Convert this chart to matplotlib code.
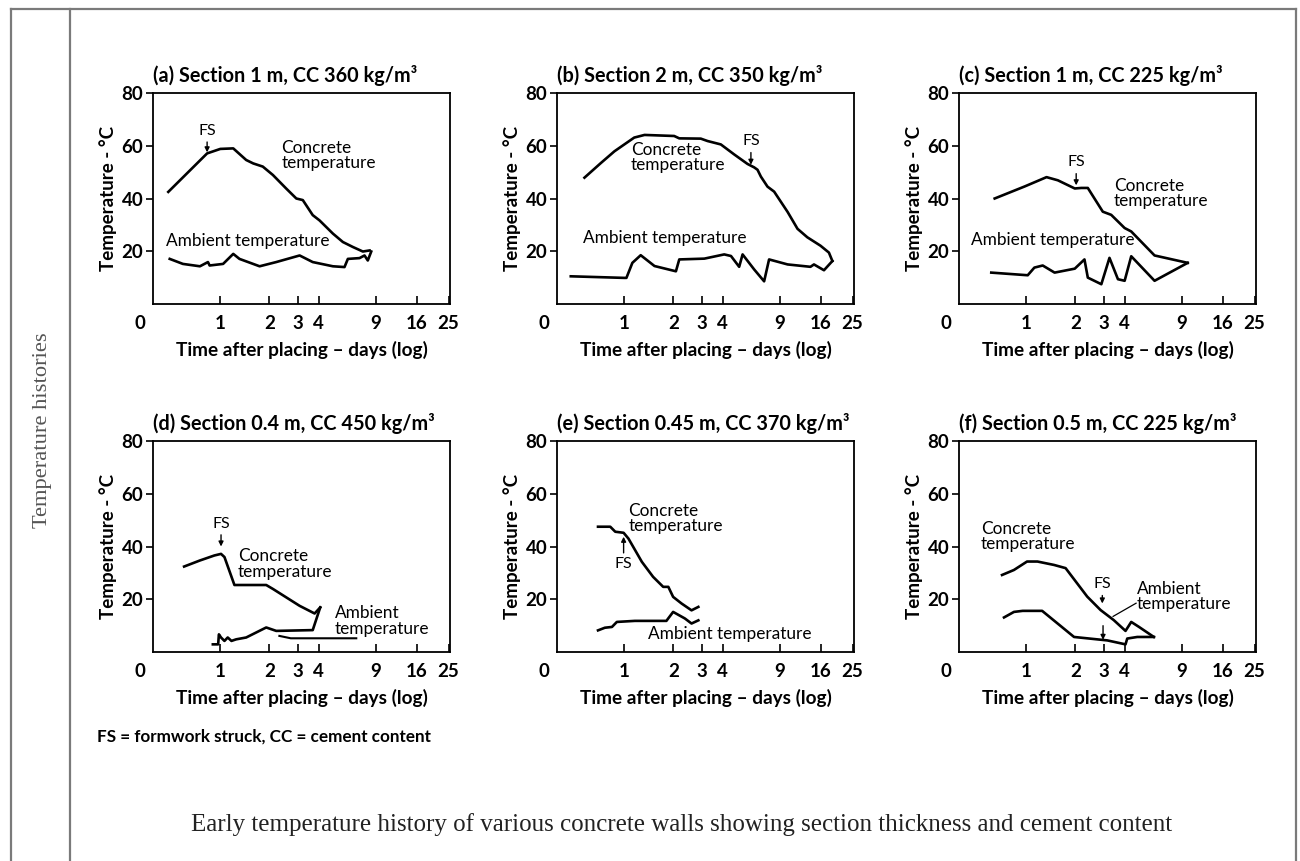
import numpy as np
import matplotlib.pyplot as plt
from matplotlib.lines import Line2D

plt.rcParams['font.family'] = ['Lato', 'DejaVu Sans']

# days after placing / temperature (deg C)
a_conc_t = [0.48, 0.83, 1.0, 1.2, 1.44, 1.59, 1.82, 2.1, 2.53, 2.92, 3.2, 3.68, 4.05, 4.89, 5.63, 6.49, 7.46, 8.2]
a_conc_v = [42.5, 57.1, 58.8, 59.0, 54.6, 53.3, 52.1, 48.9, 43.8, 40.0, 39.4, 33.7, 31.7, 26.7, 23.5, 21.6, 19.9, 20.3]
a_amb_t = [0.49, 0.59, 0.75, 0.84, 0.86, 1.04, 1.2, 1.31, 1.74, 2.2, 3.06, 3.68, 4.89, 5.76, 6.04, 7.12, 7.64, 8.0, 8.4]
a_amb_v = [17.1, 15.2, 14.3, 15.9, 14.6, 15.2, 19.0, 17.1, 14.3, 15.9, 18.4, 15.9, 14.3, 14.0, 17.1, 17.4, 18.4, 16.5, 19.9]

b_conc_t = [0.57, 0.72, 0.87, 1.0, 1.15, 1.33, 2.02, 2.17, 2.94, 3.23, 3.9, 4.71, 5.68, 6.24, 6.54, 6.86, 7.53, 8.27, 10.0, 11.5, 13.2, 15.9, 17.9, 18.8]
b_conc_v = [47.9, 53.5, 57.9, 60.5, 63.1, 64.1, 63.7, 62.8, 62.7, 61.8, 60.5, 56.7, 53.1, 51.8, 50.9, 48.3, 44.5, 42.6, 34.9, 28.5, 25.3, 22.1, 19.5, 16.3]
b_amb_t = [0.47, 1.0, 1.03, 1.12, 1.26, 1.53, 2.07, 2.17, 3.09, 4.09, 4.5, 5.05, 5.3, 6.24, 7.18, 7.7, 10.0, 13.8, 14.5, 16.7, 18.8]
b_amb_v = [10.5, 9.9, 9.9, 15.6, 18.5, 14.4, 12.4, 16.9, 17.2, 18.8, 18.2, 14.1, 18.8, 13.1, 8.6, 16.9, 15.0, 14.1, 15.0, 12.8, 16.3]

c_conc_t = [0.64, 0.98, 1.33, 1.56, 1.98, 2.17, 2.38, 2.5, 2.94, 3.31, 4.0, 4.39, 6.1, 9.73]
c_conc_v = [40.0, 44.6, 48.1, 46.9, 43.8, 44.0, 44.0, 41.9, 35.0, 33.8, 28.8, 27.5, 18.4, 15.6]
c_amb_t = [0.61, 1.02, 1.12, 1.26, 1.49, 1.98, 2.27, 2.38, 2.88, 3.23, 3.64, 4.0, 4.39, 6.1, 9.73]
c_amb_v = [11.9, 10.9, 13.8, 14.6, 11.9, 13.4, 16.9, 10.0, 7.5, 17.5, 9.4, 8.8, 18.1, 8.8, 15.6]

d_conc_t = [0.6, 0.75, 0.92, 1.01, 1.06, 1.22, 1.91, 2.1, 3.06, 3.78, 4.09]
d_conc_v = [32.4, 34.7, 36.6, 37.2, 36.0, 25.4, 25.4, 23.9, 17.5, 14.6, 16.9]
d_amb_t = [0.9, 0.97, 0.98, 1.01, 1.06, 1.11, 1.17, 1.25, 1.44, 1.91, 2.2, 3.68, 4.09]
d_amb_v = [2.9, 2.9, 6.7, 5.5, 4.2, 5.5, 4.2, 4.8, 5.5, 9.3, 8.0, 8.3, 16.9]
d_amb2_t = [2.3, 2.7, 6.8]
d_amb2_v = [6.1, 5.2, 5.2]

e_conc_t = [0.69, 0.82, 0.88, 0.99, 1.06, 1.28, 1.5, 1.73, 1.86, 1.99, 2.24, 2.58, 2.84]
e_conc_v = [47.5, 47.5, 45.6, 45.2, 43.0, 34.2, 28.5, 24.7, 24.7, 20.9, 18.4, 15.8, 17.1]
e_amb_t = [0.69, 0.76, 0.84, 0.9, 1.16, 1.81, 1.99, 2.35, 2.58, 2.84]
e_amb_v = [8.2, 9.2, 9.5, 11.4, 11.8, 11.8, 15.2, 12.7, 10.8, 12.0]

f_conc_t = [0.71, 0.84, 1.01, 1.17, 1.48, 1.74, 2.36, 2.85, 3.43, 4.05, 4.39, 4.9, 6.04]
f_conc_v = [29.2, 31.1, 34.3, 34.3, 33.0, 31.8, 21.0, 15.9, 12.1, 8.0, 11.4, 9.5, 5.7]
f_amb_t = [0.73, 0.84, 0.95, 1.25, 1.96, 3.13, 4.05, 4.15, 4.78, 6.04]
f_amb_v = [13.1, 15.2, 15.6, 15.6, 5.7, 4.4, 2.9, 5.1, 5.7, 5.7]

titles = ['(a) Section 1 m, CC 360 kg/m³', '(b) Section 2 m, CC 350 kg/m³',
          '(c) Section 1 m, CC 225 kg/m³', '(d) Section 0.4 m, CC 450 kg/m³',
          '(e) Section 0.45 m, CC 370 kg/m³', '(f) Section 0.5 m, CC 225 kg/m³']
x_ticks = [1, 2, 3, 4, 9, 16, 25]
y_ticks = [20, 40, 60, 80]

W, H = 1300, 861
fig = plt.figure(figsize=(W / 100, H / 100), dpi=100)

# page frame
for (x0, y0, x1, y1) in [(11, 8.5, 1296, 8.5), (11, 8.5, 11, 861), (70, 8.5, 70, 861), (1296, 8.5, 1296, 861)]:
    fig.add_artist(Line2D([x0 / W, x1 / W], [1 - y0 / H, 1 - y1 / H], color='#7a7a7a', lw=1.6))

col_left = [153, 557, 959]
row_top = [93, 441]
ax_w, ax_h = 297, 211

axes = []
for r in range(2):
    for c in range(3):
        ax = fig.add_axes([col_left[c] / W, 1 - (row_top[r] + ax_h) / H, ax_w / W, ax_h / H])
        ax.set_xscale('log')
        ax.set_xlim(0.387, 25.5)
        ax.set_ylim(0, 80)
        ax.set_xticks(x_ticks)
        ax.set_xticklabels([str(t) for t in x_ticks])
        ax.xaxis.set_minor_locator(plt.NullLocator())
        ax.set_yticks(y_ticks)
        ax.tick_params(axis='x', direction='in', length=6, width=1.2, pad=8, labelsize=13.5)
        ax.tick_params(axis='y', direction='out', length=5, width=1.2, pad=2, labelsize=13.5)
        for lab in ax.get_xticklabels() + ax.get_yticklabels():
            lab.set_fontweight('bold')
        for s in ax.spines.values():
            s.set_linewidth(1.3)
        ax.annotate('0', xy=(-0.045, 0), xycoords='axes fraction', xytext=(0, -8),
                    textcoords='offset points', ha='center', va='top', fontsize=13.5, fontweight='bold')
        ax.set_title(titles[r * 3 + c], loc='left', fontsize=14.3, fontweight='bold', pad=8)
        ax.set_xlabel('Time after placing – days (log)', fontsize=13.7, fontweight='bold', labelpad=6)
        ax.set_ylabel('Temperature - °C', fontsize=13.5, fontweight='bold', labelpad=3)
        axes.append(ax)

series = [(a_conc_t, a_conc_v, a_amb_t, a_amb_v), (b_conc_t, b_conc_v, b_amb_t, b_amb_v),
          (c_conc_t, c_conc_v, c_amb_t, c_amb_v), (d_conc_t, d_conc_v, d_amb_t, d_amb_v),
          (e_conc_t, e_conc_v, e_amb_t, e_amb_v), (f_conc_t, f_conc_v, f_amb_t, f_amb_v)]
for ax, (ct, cv, at, av) in zip(axes, series):
    ax.plot(ct, cv, color='black', lw=1.9, solid_joinstyle='round')
    ax.plot(at, av, color='black', lw=1.9, solid_joinstyle='round')
axes[3].plot(d_amb2_t, d_amb2_v, color='black', lw=1.5)

txt = dict(fontsize=12.4, va='center', ha='left', linespacing=0.95)
arr = dict(arrowstyle='-|>', lw=1, color='black', mutation_scale=7, shrinkA=1, shrinkB=0)
fs = dict(fontsize=11.5, ha='center', va='bottom')

ax = axes[0]
ax.annotate('FS', xy=(0.83, 57.5), xytext=(0.83, 63), arrowprops=arr, **fs)
ax.text(2.36, 56.2, 'Concrete\ntemperature', **txt)
ax.text(0.467, 24, 'Ambient temperature', **txt)

ax = axes[1]
ax.annotate('FS', xy=(5.96, 52.8), xytext=(5.96, 59), arrowprops=arr, **fs)
ax.text(1.1, 55.5, 'Concrete\ntemperature', **txt)
ax.text(0.556, 24.9, 'Ambient temperature', **txt)

ax = axes[2]
ax.annotate('FS', xy=(2.02, 45), xytext=(2.02, 51), arrowprops=arr, **fs)
ax.text(3.44, 41.9, 'Concrete\ntemperature', **txt)
ax.text(0.457, 24.1, 'Ambient temperature', **txt)

ax = axes[3]
ax.annotate('FS', xy=(1.01, 40), xytext=(1.01, 46), arrowprops=arr, **fs)
ax.text(1.28, 33.4, 'Concrete\ntemperature', **txt)
ax.text(5.0, 11.8, 'Ambient\ntemperature', **txt)

ax = axes[4]
ax.annotate('FS', xy=(0.99, 43.7), xytext=(0.99, 36), arrowprops=arr, fontsize=11.5, ha='center', va='top')
ax.text(1.06, 50.6, 'Concrete\ntemperature', **txt)
ax.text(1.4, 7.0, 'Ambient temperature', **txt)

ax = axes[5]
ax.annotate('FS', xy=(2.92, 18.4), xytext=(2.92, 23), arrowprops=arr, **fs)
ax.annotate('', xy=(2.95, 4.6), xytext=(2.95, 10.5), arrowprops=arr)
ax.text(0.526, 43.8, 'Concrete\ntemperature', **txt)
ax.text(4.77, 21, 'Ambient\ntemperature', **txt)
ax.plot([3.4, 4.7], [13.5, 18.5], color='black', lw=0.9)

fig.text(97 / W, 1 - 737 / H, 'FS = formwork struck, CC = cement content',
         fontsize=12.3, fontweight='bold', ha='left', va='center')
fig.text(43 / W, 1 - 430 / H, 'Temperature histories', rotation=90, ha='center', va='center',
         family='Liberation Serif', fontsize=16.2, color='#555555')
fig.text(682 / W, 1 - 825 / H,
         'Early temperature history of various concrete walls showing section thickness and cement content',
         ha='center', va='center', family='Liberation Serif', fontsize=18, color='#222222')

fig.savefig('out.png', dpi=100, facecolor='white')
